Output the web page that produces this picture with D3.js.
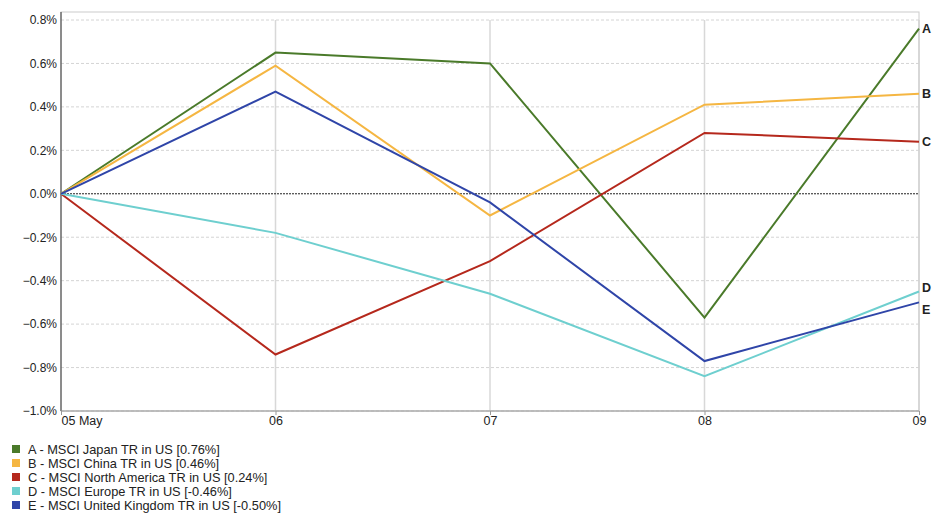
<!DOCTYPE html>
<html><head><meta charset="utf-8">
<script src="https://cdn.jsdelivr.net/npm/d3@7"></script>
<style>body{margin:0;background:#fff;font-family:Arial,"Liberation Sans",sans-serif;}</style>
</head><body><svg id="c" width="940" height="519"></svg>
<script>
const dates = ["05 May","06","07","08","09"];
const yTicks = [0.8,0.6,0.4,0.2,0.0,-0.2,-0.4,-0.6,-0.8,-1.0];
const seriesLetters = ["A","B","C","D","E"];
const seriesNames = ["A - MSCI Japan TR in US [0.76%]","B - MSCI China TR in US [0.46%]","C - MSCI North America TR in US [0.24%]","D - MSCI Europe TR in US [-0.46%]","E - MSCI United Kingdom TR in US [-0.50%]"];
const seriesColors = ["#4a7a2a","#f5b642","#b5281c","#6ecfcf","#2f45a8"];
const valsA = [0,0.65,0.60,-0.57,0.76];
const valsB = [0,0.59,-0.10,0.41,0.46];
const valsC = [0,-0.74,-0.31,0.28,0.24];
const valsD = [0,-0.18,-0.46,-0.84,-0.45];
const valsE = [0,0.47,-0.04,-0.77,-0.50];
const allVals = [valsA,valsB,valsC,valsD,valsE];

const svg = d3.select("#c");
const L=61,R=919,T=20,B=411;
const x = d3.scalePoint().domain(dates).range([L,R]);
const y = d3.scaleLinear().domain([-1.0,0.8]).range([B,T]);

svg.append("g").selectAll("line").data(yTicks.filter(v=>v!==0)).join("line")
 .attr("x1",L).attr("x2",R).attr("y1",d=>y(d)).attr("y2",d=>y(d))
 .attr("stroke","#d4d4d4").attr("stroke-dasharray","3,2");
svg.append("g").selectAll("line").data(dates.slice(1)).join("line")
 .attr("x1",d=>x(d)).attr("x2",d=>x(d)).attr("y1",T).attr("y2",B)
 .attr("stroke","#d8d8d8").attr("stroke-width",1.5);
svg.append("line").attr("x1",L).attr("x2",R).attr("y1",y(0)).attr("y2",y(0))
 .attr("stroke","#222").attr("stroke-dasharray","2,1");
svg.append("rect").attr("x",L).attr("y",T-8).attr("width",R-L).attr("height",B-T+8)
 .attr("fill","none").attr("stroke","#ccc");
svg.append("line").attr("x1",L).attr("x2",L).attr("y1",T-8).attr("y2",B).attr("stroke","#333");
svg.append("line").attr("x1",L).attr("x2",R).attr("y1",B).attr("y2",B).attr("stroke","#999");

const yAx = svg.append("g").attr("transform",`translate(${L},0)`)
 .call(d3.axisLeft(y).tickValues(yTicks).tickSize(0).tickPadding(4).tickFormat(d=>d3.format(".1f")(d)+"%"));
yAx.select(".domain").remove();
yAx.selectAll("text").attr("font-size",12).attr("fill","#222").attr("font-family","Arial,'Liberation Sans',sans-serif");

const xAx = svg.append("g").attr("transform",`translate(0,${B})`)
 .call(d3.axisBottom(x).tickSize(4).tickPadding(1));
xAx.select(".domain").remove();
xAx.selectAll("line").attr("stroke","#999");
xAx.selectAll("text").attr("font-size",12.5).attr("fill","#222").attr("font-family","Arial,'Liberation Sans',sans-serif")
 .attr("text-anchor",(d,i)=>i===0?"start":"middle");

const line = d3.line().x((d,i)=>x(dates[i])).y(d=>y(d));
allVals.forEach((v,k)=>{
 svg.append("path").attr("d",line(v)).attr("fill","none").attr("stroke",seriesColors[k]).attr("stroke-width",2);
});
const lblDy=[0,0,0,-4,8];
allVals.forEach((v,k)=>{
 svg.append("text").attr("x",R+3).attr("y",y(v[v.length-1])+4+lblDy[k]).text(seriesLetters[k])
  .attr("font-size",12.5).attr("font-weight","bold").attr("fill","#222");
});

const lg = svg.append("g").attr("transform","translate(12,445)");
seriesNames.forEach((n,k)=>{
 lg.append("rect").attr("x",0).attr("y",k*14).attr("width",8).attr("height",8).attr("fill",seriesColors[k]);
 lg.append("text").attr("x",16).attr("y",k*14+9).text(n).attr("font-size",12.8).attr("fill","#222");
});
</script></body></html>
